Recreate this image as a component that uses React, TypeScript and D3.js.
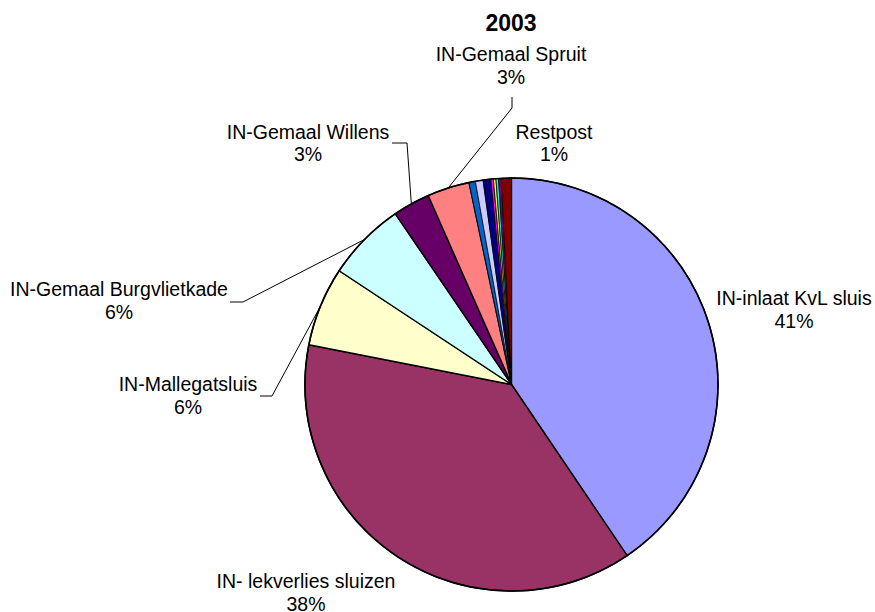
import React from 'react';
import * as d3 from 'd3';

// slices in drawing order, clockwise from 12 o'clock
const names = [
  'IN-inlaat KvL sluis',
  'IN- lekverlies sluizen',
  'IN-Mallegatsluis',
  'IN-Gemaal Burgvlietkade',
  'IN-Gemaal Willens',
  'IN-Gemaal Spruit',
  'post 7',
  'post 8',
  'post 9',
  'post 10',
  'post 11',
  'post 12',
  'post 13',
  'Restpost',
];
const values = [40.5, 37.5, 6.2, 6.2, 2.9, 3.3, 0.5, 0.6, 0.6, 0.2, 0.2, 0.2, 0.2, 0.8];
const colors = [
  '#9999FF', '#993366', '#FFFFCC', '#CCFFFF', '#660066', '#FF8080', '#0066CC',
  '#CCCCFF', '#000080', '#FF00FF', '#FFFF00', '#00FFFF', '#800080', '#800000',
];
const title = '2003';

// label layout: text centre x, first baseline y, optional leader start + elbow
const labelLayout: any[] = [
  { x: 794, y: 305 },
  { x: 306, y: 588 },
  { x: 188, y: 391, leader: [[260, 396], [272, 396]] },
  { x: 119, y: 296, leader: [[230, 302], [243, 302]] },
  { x: 308, y: 138.5, leader: [[392, 143], [407, 143]] },
  { x: 511, y: 61, leader: [[512, 97], [512, 108]] },
  null, null, null, null, null, null, null,
  { x: 554, y: 138.5 },
];

const W = 875, H = 612;
const cx = 511.5, cy = 384.5, R = 206.5;
const lineGap = 22.8;

export default function App() {
  const total = d3.sum(values);
  const pie = d3.pie<number>().sort(null).startAngle(0).endAngle(2 * Math.PI);
  const arcs = pie(values);
  const arc = d3.arc<d3.PieArcDatum<number>>().innerRadius(0).outerRadius(R);
  const line = d3.line();

  const onArc = (a: number) => [cx + R * Math.sin(a), cy - R * Math.cos(a)] as [number, number];

  return (
    <svg width={W} height={H} style={{ position: 'absolute', left: 0, top: 0, background: '#fff' }}
      fontFamily="'Liberation Sans', Arial, sans-serif">
      <text x={511} y={31} textAnchor="middle" fontSize={23} fontWeight="bold">{title}</text>
      <g transform={`translate(${cx},${cy})`}>
        {arcs.map((d, i) => (
          <path key={i} d={arc(d) || ''} fill={colors[i]} stroke="#000"
            strokeWidth={values[i] / total < 0.01 ? 0.8 : 1.4} strokeLinejoin="round" />
        ))}
        <circle r={R} fill="none" stroke="#000" strokeWidth={1.6} />
      </g>
      {arcs.map((d, i) => {
        const lay = labelLayout[i];
        if (!lay || !lay.leader) return null;
        const pts: [number, number][] = [...lay.leader, onArc((d.startAngle + d.endAngle) / 2)];
        return <path key={'l' + i} d={line(pts) || ''} fill="none" stroke="#000" strokeWidth={1} />;
      })}
      {arcs.map((d, i) => {
        const lay = labelLayout[i];
        if (!lay) return null;
        const pct = Math.round((values[i] / total) * 100);
        return (
          <text key={'t' + i} textAnchor="middle" fontSize={19.5} fill="#000">
            <tspan x={lay.x} y={lay.y}>{names[i]}</tspan>
            <tspan x={lay.x} y={lay.y + lineGap}>{pct}%</tspan>
          </text>
        );
      })}
    </svg>
  );
}
